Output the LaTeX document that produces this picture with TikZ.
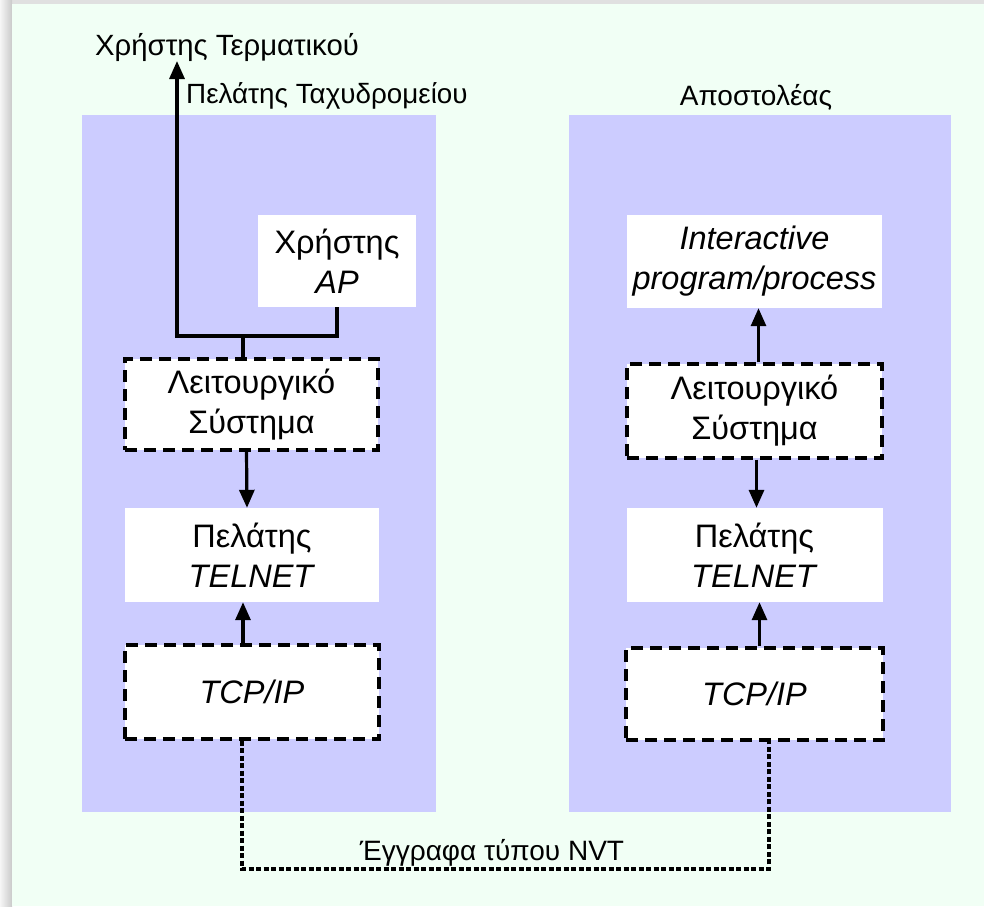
\documentclass[tikz,border=0pt]{standalone}
\usepackage{fontspec}
\setmainfont{Liberation Sans}
\usetikzlibrary{arrows.meta,calc}
\definecolor{mint}{HTML}{F1FFF5}
\definecolor{panel}{HTML}{CCCCFF}
\definecolor{edge}{HTML}{E0E0E0}
\tikzset{
  box/.style={fill=white, inner sep=0pt, align=center, font=\fontsize{32.5}{40}\selectfont},
  solidbox/.style={box},
  dashbox/.style={box, draw=black, line width=3.4pt, dash pattern=on 12pt off 7pt},
  arr/.style={line width=3.2pt, -{Triangle[length=18pt,width=15pt]}},
  plain/.style={line width=3.2pt},
  dotline/.style={line width=3.4pt, dash pattern=on 5pt off 2.5pt},
  lbl/.style={inner sep=0pt, font=\fontsize{28}{33}\selectfont},
}
\begin{document}
\begin{tikzpicture}[x=1pt,y=-1pt]
\useasboundingbox (0,0) rectangle (984,906);
% page background
\fill[edge] (0,0) rectangle (984,906);
\shade[left color=white!70!edge, right color=edge!90!black] (0,0) rectangle (12,906);
\fill[mint] (12,4) rectangle (984,906);
% panels
\fill[panel] (82,115) rectangle (436,812);
\fill[panel] (569,115) rectangle (951,812);
% left column
\node[solidbox, minimum width=158pt, minimum height=92pt] (ap) at (337,261) {Χρήστης\\\textit{AP}};
\node[dashbox, minimum width=253pt, minimum height=91pt] (losL) at (251.5,404.5) {Λειτουργικό\\Σύστημα};
\node[solidbox, minimum width=254pt, minimum height=94pt] (telL) at (252,555) {Πελάτης\\\textit{TELNET}};
\node[dashbox, minimum width=254pt, minimum height=94pt] (tcpL) at (252,692) {\textit{TCP/IP}};
% right column
\node[solidbox, minimum width=255pt, minimum height=93pt] (inter) at (754.5,261.5) {\textit{Interactive}\\\textit{program/process}};
\node[dashbox, minimum width=255pt, minimum height=94pt] (losR) at (754.5,411) {Λειτουργικό\\Σύστημα};
\node[solidbox, minimum width=256pt, minimum height=94pt] (telR) at (754.5,555) {Πελάτης\\\textit{TELNET}};
\node[dashbox, minimum width=257pt, minimum height=92pt] (tcpR) at (754.5,694) {\textit{TCP/IP}};
% labels
\node[lbl, anchor=base west, font=\fontsize{29.3}{34}\selectfont] (term) at (95,55) {Χρήστης Τερματικού};
\node[lbl, anchor=base west, font=\fontsize{27.8}{33}\selectfont] (mail) at (186,103) {Πελάτης Ταχυδρομείου};
\node[lbl, anchor=base] (sender) at (756,105) {Αποστολέας};
\node[lbl, anchor=base] (nvt) at (492,860) {Έγγραφα τύπου NVT};
% coordinates
\coordinate (userT) at (177,61);
\coordinate (corner) at (177,336);
\coordinate (junc) at (243,336);
\coordinate (botL) at (242,869);
\coordinate (botR) at (769,869);
% connectors left
\draw[arr] (ap.south) |- (corner) -- (userT);
\draw[plain] (losL.north -| junc) -- (junc);
\draw[arr] ([xshift=-5pt]losL.south) -- ([xshift=-5pt]telL.north);
\draw[arr] ([xshift=-9pt]tcpL.north) -- ([xshift=-9pt]telL.south);
% connectors right
\draw[arr] ([xshift=4pt]losR.north) -- ([xshift=4pt]inter.south);
\draw[arr] ([xshift=2pt]losR.south) -- ([xshift=2pt]telR.north);
\draw[arr] ([xshift=5pt]tcpR.north) -- ([xshift=5pt]telR.south);
% NVT dotted link
\draw[dotline] (tcpL.south -| botL) -- (botL) -- (botR) -- (tcpR.south -| botR);
\end{tikzpicture}
\end{document}
